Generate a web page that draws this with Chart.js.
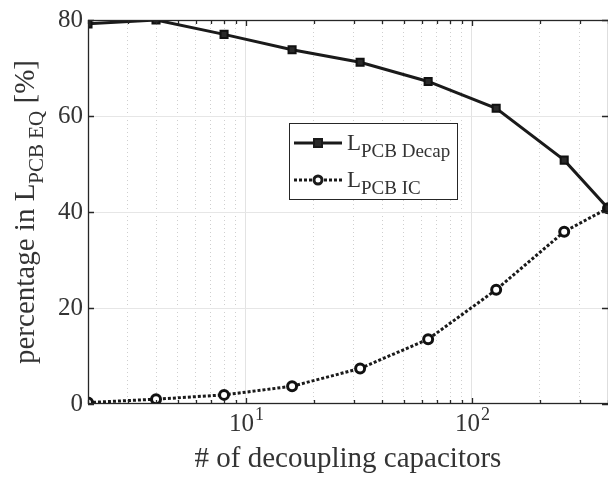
<!DOCTYPE html>
<html>
<head>
<meta charset="utf-8">
<script src="https://cdn.jsdelivr.net/npm/chart.js@4/dist/chart.umd.min.js"></script>
<style>
html,body{margin:0;padding:0;background:#fff;}
#wrap{width:608px;height:482px;position:relative;}
</style>
</head>
<body>
<div id="wrap"><canvas id="c" width="608" height="482"></canvas></div>
<script>
// ---- data ----
const capacitorCounts = [2, 4, 8, 16, 32, 64, 128, 256, 400];
const pcbDecap = [79.2, 80.0, 77.0, 73.8, 71.2, 67.2, 61.6, 50.8, 40.8];
const pcbIC = [0.3, 1.0, 1.9, 3.7, 7.4, 13.5, 23.8, 35.9, 40.8];
const xMajorTicks = [10, 100];
const xMinorTicks = [2,3,4,5,6,7,8,9,20,30,40,50,60,70,80,90,200,300,400];
const yTicks = [0, 20, 40, 60, 80];
const xTitle = '# of decoupling capacitors';
const yTitleParts = ['percentage in L', 'PCB EQ', ' [%]'];
const legendNames = [['L', 'PCB Decap'], ['L', 'PCB IC']];

const FONT = "'Liberation Serif', 'Times New Roman', serif";
const TXT = '#333333';
const AX = '#262626';

const overlay = {
  id: 'overlay',
  afterDraw(chart) {
    const ctx = chart.ctx, a = chart.chartArea;
    const xs = chart.scales.x, ys = chart.scales.y;
    ctx.save();
    // box
    ctx.strokeStyle = AX; ctx.lineWidth = 1.3; ctx.setLineDash([]);
    ctx.strokeRect(a.left + 0.5, a.top + 0.5, a.right - a.left, a.bottom - a.top - 1);
    // inward ticks
    ctx.beginPath();
    xs.ticks.forEach(t => {
      const px = Math.round(xs.getPixelForValue(t.value)) + 0.5;
      const len = t.major ? 6 : 4;
      ctx.moveTo(px, a.bottom); ctx.lineTo(px, a.bottom - len);
      ctx.moveTo(px, a.top); ctx.lineTo(px, a.top + len);
    });
    yTicks.forEach(v => {
      const py = Math.round(ys.getPixelForValue(v)) + 0.5;
      ctx.moveTo(a.left, py); ctx.lineTo(a.left + 6, py);
      ctx.moveTo(a.right, py); ctx.lineTo(a.right - 6, py);
    });
    ctx.stroke();

    // x tick labels 10^n
    ctx.fillStyle = TXT; ctx.textBaseline = 'alphabetic';
    xMajorTicks.forEach(v => {
      const px = xs.getPixelForValue(v);
      const exp = String(Math.round(Math.log10(v)));
      ctx.font = '25px ' + FONT;
      const w1 = ctx.measureText('10').width;
      ctx.font = '18px ' + FONT;
      const w2 = ctx.measureText(exp).width;
      const x0 = px - (w1 + w2) / 2;
      ctx.font = '25px ' + FONT; ctx.textAlign = 'left';
      ctx.fillText('10', x0, 431);
      ctx.font = '18px ' + FONT;
      ctx.fillText(exp, x0 + w1 + 1, 420);
    });

    // x title
    ctx.font = '29px ' + FONT; ctx.textAlign = 'center';
    ctx.fillText(xTitle, (a.left + a.right) / 2, 467);

    // y title (rotated, with subscript)
    ctx.save();
    ctx.translate(34, (a.top + a.bottom) / 2);
    ctx.rotate(-Math.PI / 2);
    ctx.textAlign = 'left';
    const sizes = [29, 21, 29];
    const shifts = [0, 9, 0];
    let total = 0;
    const widths = yTitleParts.map((s, i) => { ctx.font = sizes[i] + 'px ' + FONT; const w = ctx.measureText(s).width; total += w; return w; });
    let cx = -total / 2;
    yTitleParts.forEach((s, i) => {
      ctx.font = sizes[i] + 'px ' + FONT;
      ctx.fillText(s, cx, shifts[i]);
      cx += widths[i];
    });
    ctx.restore();

    // legend
    const L = { x: 289, y: 123, w: 168, h: 76 };
    ctx.fillStyle = '#ffffff';
    ctx.fillRect(L.x, L.y, L.w, L.h);
    ctx.strokeStyle = '#262626'; ctx.lineWidth = 1;
    ctx.strokeRect(L.x + 0.5, L.y + 0.5, L.w, L.h);
    const rows = [143, 180];
    chart.data.datasets.forEach((ds, i) => {
      const y = rows[i];
      ctx.strokeStyle = ds.borderColor; ctx.lineWidth = ds.borderWidth;
      ctx.setLineDash(ds.borderDash || []);
      ctx.beginPath(); ctx.moveTo(294, y); ctx.lineTo(342, y); ctx.stroke();
      ctx.setLineDash([]);
      ctx.lineWidth = ds.pointBorderWidth;
      ctx.fillStyle = ds.pointBackgroundColor; ctx.strokeStyle = ds.borderColor;
      if (ds.pointStyle === 'rect') {
        ctx.fillRect(318 - 4, y - 4, 8, 8);
        ctx.strokeRect(318 - 4, y - 4, 8, 8);
      } else {
        ctx.beginPath(); ctx.arc(318, y, 4, 0, Math.PI * 2); ctx.fill(); ctx.stroke();
      }
      ctx.fillStyle = TXT; ctx.textAlign = 'left';
      ctx.font = '23px ' + FONT;
      ctx.fillText(legendNames[i][0], 347, y + 7);
      const wl = ctx.measureText(legendNames[i][0]).width;
      ctx.font = '19px ' + FONT;
      ctx.fillText(legendNames[i][1], 347 + wl, y + 14);
    });
    ctx.restore();
  }
};

new Chart(document.getElementById('c'), {
  type: 'line',
  data: {
    datasets: [
      {
        label: 'L PCB Decap',
        data: capacitorCounts.map((c, i) => ({ x: c, y: pcbDecap[i] })),
        borderColor: '#1a1a1a', borderWidth: 3,
        pointStyle: 'rect', pointRadius: 5, pointBorderWidth: 2,
        pointBackgroundColor: '#2a2a2a', pointBorderColor: '#111',
        tension: 0
      },
      {
        label: 'L PCB IC',
        data: capacitorCounts.map((c, i) => ({ x: c, y: pcbIC[i] })),
        borderColor: '#1a1a1a', borderWidth: 3, borderDash: [3, 2],
        pointStyle: 'circle', pointRadius: 4.5, pointBorderWidth: 3,
        pointBackgroundColor: '#ffffff', pointBorderColor: '#111',
        tension: 0
      }
    ]
  },
  options: {
    responsive: false,
    animation: false,
    devicePixelRatio: 1,
    layout: { autoPadding: false, padding: { top: 18, left: 0, right: 0, bottom: 0 } },
    plugins: { legend: { display: false }, tooltip: { enabled: false } },
    scales: {
      x: {
        type: 'logarithmic', min: 2, max: 400,
        afterBuildTicks(scale) {
          scale.ticks = xMinorTicks.concat(xMajorTicks).sort((p, q) => p - q)
            .map(v => ({ value: v, major: xMajorTicks.includes(v) }));
        },
        afterFit(scale) { scale.height = 78; },
        ticks: { display: false },
        grid: {
          drawTicks: false,
          color: ctx => {
            const v = ctx.tick ? ctx.tick.value : 0;
            if (v === 2 || v === 400) return 'rgba(0,0,0,0)';
            return xMajorTicks.includes(v) ? '#e3e3e3' : '#cfcfcf';
          },
          lineWidth: 1
        },
        border: {
          display: false,
          dash: ctx => (ctx.tick && !xMajorTicks.includes(ctx.tick.value)) ? [1, 3] : []
        }
      },
      y: {
        min: 0, max: 80,
        afterBuildTicks(scale) { scale.ticks = yTicks.map(v => ({ value: v })); },
        afterFit(scale) { scale.width = 88; },
        ticks: { color: TXT, padding: 5, font: { family: FONT, size: 25 } },
        grid: {
          drawTicks: false,
          color: ctx => {
            const v = ctx.tick ? ctx.tick.value : 0;
            return (v === 0 || v === 80) ? 'rgba(0,0,0,0)' : '#e6e6e6';
          },
          lineWidth: 1
        },
        border: { display: false }
      }
    }
  },
  plugins: [overlay]
});
</script>
</body>
</html>
